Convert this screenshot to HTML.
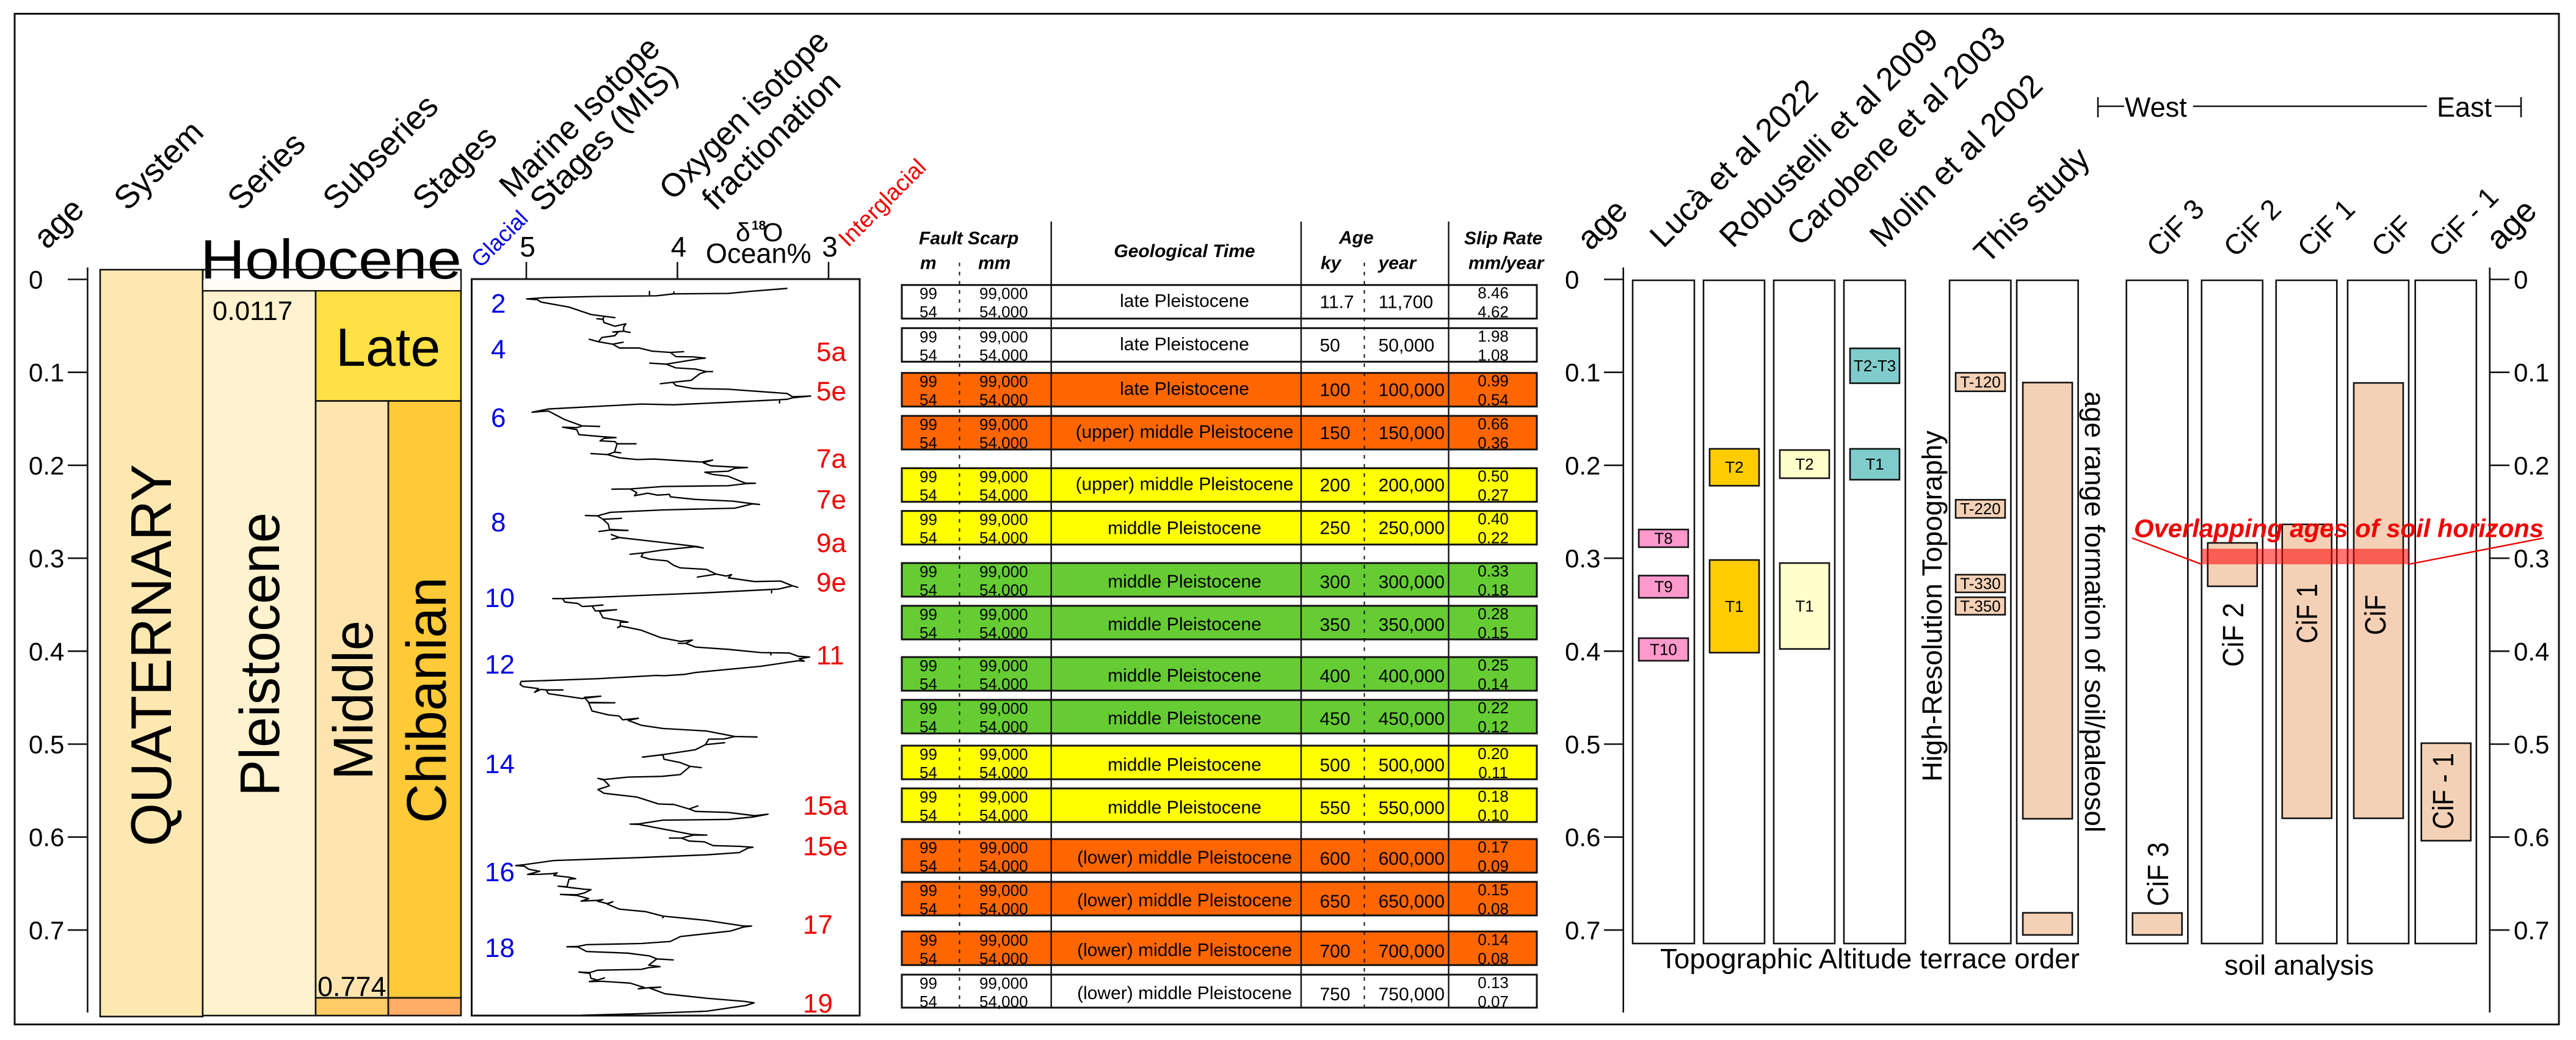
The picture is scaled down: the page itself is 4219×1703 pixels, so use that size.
<!DOCTYPE html>
<html lang="en">
<head>
<meta charset="utf-8">
<title>Chronostratigraphy, isotope stages, fault scarp slip rates and terrace ages</title>
<style>
html,body{margin:0;padding:0;background:#fff;}
svg{display:block;}
text{font-family:"Liberation Sans",Arial,sans-serif;fill:#000;}
.box{stroke:#111;stroke-width:2.6;}
.col{fill:#fff;stroke:#111;stroke-width:2.6;}
.h54{font-size:54px;}
.h53{font-size:53px;}
.h46{font-size:46px;}
.h45{font-size:45px;}
.tick{font-size:42px;}
.blue{font-size:44px;fill:#0000e6;}
.red{font-size:44px;fill:#f00000;}
.t26{font-size:26px;}
.t30{font-size:30px;}
.b30{font-size:30px;font-weight:bold;font-style:italic;}
.mid{text-anchor:middle;}
.rw{stroke:#111;stroke-width:3;}
.white{fill:#fff;}
.orange{fill:#ff6600;}
.yellow{fill:#ffff00;}
.green{fill:#66cc33;}
.bar{stroke:#111;stroke-width:2.6;}
.bar-luca{fill:#ff99cc;}
.bar-robustelli{fill:#ffcc00;}
.bar-carobene{fill:#ffffcc;}
.bar-molin{fill:#80cccc;}
.bar-study{fill:#f4d1b6;}
.bar-text{font-size:26px;text-anchor:middle;}
</style>
</head>
<body>
<svg id="chart" xmlns="http://www.w3.org/2000/svg" width="4219" height="1703" viewBox="0 0 4219 1703">
<rect x="0" y="0" width="4219" height="1703" fill="#fff"/>
<rect x="24" y="22.5" width="4167" height="1655" fill="none" stroke="#111" stroke-width="3"/>

<!-- Rotated headers -->
<text class="h54" transform="translate(77,410) rotate(-45)">age</text>
<text class="h54" transform="translate(209,347) rotate(-45)">System</text>
<text class="h54" transform="translate(395,347) rotate(-45)">Series</text>
<text class="h54" transform="translate(551,347) rotate(-45)">Subseries</text>
<text class="h54" transform="translate(698,347) rotate(-45)">Stages</text>
<text class="h54" transform="translate(840,326) rotate(-45)" textLength="345" lengthAdjust="spacingAndGlyphs">Marine Isotope</text>
<text class="h54" transform="translate(890,349) rotate(-45)">Stages (MIS)</text>
<text class="h54" transform="translate(1102,330) rotate(-45)" textLength="366" lengthAdjust="spacingAndGlyphs">Oxygen isotope</text>
<text class="h54" transform="translate(1172,347) rotate(-45)">fractionation</text>
<text font-size="37" style="fill:#0000e6" transform="translate(787,440) rotate(-45)">Glacial</text>
<text font-size="38" style="fill:#f00000" transform="translate(1389,406) rotate(-45)">Interglacial</text>

<text class="h54" transform="translate(2605,412) rotate(-45)">age</text>
<text class="h53" transform="translate(2724,408) rotate(-45)">Lucà et al 2022</text>
<text class="h53" transform="translate(2838,408) rotate(-45)">Robustelli et al 2009</text>
<text class="h53" transform="translate(2948,405) rotate(-45)">Carobene et al 2003</text>
<text class="h53" transform="translate(3084,408) rotate(-45)">Molin et al 2002</text>
<text class="h53" transform="translate(3255,434) rotate(-45)">This study</text>
<text class="h46" transform="translate(3535,423) rotate(-45)">CiF 3</text>
<text class="h46" transform="translate(3661,423) rotate(-45)">CiF 2</text>
<text class="h46" transform="translate(3782,423) rotate(-45)">CiF 1</text>
<text class="h46" transform="translate(3903,423) rotate(-45)">CiF</text>
<text class="h46" transform="translate(3997,423) rotate(-45)">CiF - 1</text>
<text class="h54" transform="translate(4094,412) rotate(-45)">age</text>

<!-- West / East bracket -->
<path d="M3436 159V192M3436 174H3479M3592 174H3975M4086 174H4129M4129 159V192" fill="none" stroke="#111" stroke-width="2.6"/>
<text x="3480" y="191" font-size="45">West</text>
<text x="3991" y="191" font-size="45">East</text>

<!-- Chronostratigraphy -->
<rect class="box" x="164" y="441.6" width="168" height="1223" fill="#fee8b1"/>
<rect class="box" x="332" y="476" width="185" height="1187" fill="#fff2ce"/>
<rect class="box" x="517" y="476" width="238" height="180.6" fill="#ffe045"/>
<rect class="box" x="517" y="656.6" width="119" height="977.4" fill="#fee5af"/>
<rect class="box" x="636" y="656.6" width="119" height="977.4" fill="#ffca38"/>
<rect class="box" x="517" y="1634" width="119" height="29" fill="#ffcb66"/>
<rect class="box" x="636" y="1634" width="119" height="29" fill="#ffad66"/>
<text x="328" y="456" font-size="91" textLength="428" lengthAdjust="spacingAndGlyphs">Holocene</text>
<rect class="box" x="332" y="441.6" width="423" height="34.4" fill="#fffdf5" fill-opacity="0.01"/>
<path d="M333 458H754V475H333Z" fill="#fdfcf5"/>
<text x="348" y="524" font-size="44">0.0117</text>
<text x="550" y="599" font-size="88">Late</text>
<text x="520" y="1631" font-size="45">0.774</text>
<text font-size="94" transform="translate(280,1386) rotate(-90)" textLength="626" lengthAdjust="spacingAndGlyphs">QUATERNARY</text>
<text font-size="92" transform="translate(457,1304) rotate(-90)" textLength="465" lengthAdjust="spacingAndGlyphs">Pleistocene</text>
<text font-size="92" transform="translate(610,1277) rotate(-90)" textLength="261" lengthAdjust="spacingAndGlyphs">Middle</text>
<text font-size="92" transform="translate(730,1348) rotate(-90)" textLength="403" lengthAdjust="spacingAndGlyphs">Chibanian</text>

<!-- Isotope panel -->
<rect x="772.5" y="457" width="635.5" height="1206" fill="#fff" stroke="#111" stroke-width="3"/>
<text x="1205" y="395" font-size="43">δ</text>
<text x="1231" y="376" font-size="21" font-weight="bold">18</text>
<text x="1249" y="395" font-size="43">O</text>
<text x="1156" y="430.6" font-size="45">Ocean%</text>
<g id="isotope-axis"></g>
<path id="isotope-curve" fill="none" stroke="#000" stroke-width="2.3" stroke-linejoin="round" stroke-linecap="round"/>
<g>
<text class="blue" x="804" y="512">2</text>
<text class="blue" x="804" y="587">4</text>
<text class="blue" x="804" y="699">6</text>
<text class="blue" x="804" y="870">8</text>
<text class="blue" x="794" y="994">10</text>
<text class="blue" x="794" y="1103">12</text>
<text class="blue" x="794" y="1266">14</text>
<text class="blue" x="794" y="1443">16</text>
<text class="blue" x="794" y="1567">18</text>
</g>
<g>
<text class="red" x="1337" y="591">5a</text>
<text class="red" x="1337" y="655.5">5e</text>
<text class="red" x="1337" y="766">7a</text>
<text class="red" x="1337" y="833">7e</text>
<text class="red" x="1337" y="904">9a</text>
<text class="red" x="1337" y="968.6">9e</text>
<text class="red" x="1337" y="1088">11</text>
<text class="red" x="1315" y="1334">15a</text>
<text class="red" x="1315" y="1400.6">15e</text>
<text class="red" x="1315" y="1529">17</text>
<text class="red" x="1315" y="1658">19</text>
</g>

<!-- Table rows -->
<g>
<g>
<text class="b30" x="1505" y="400">Fault Scarp</text>
<text class="b30" x="1507" y="440.7">m</text>
<text class="b30" x="1602" y="440.7">mm</text>
<text class="b30 mid" x="1940" y="421">Geological Time</text>
<text class="b30" x="2193" y="399">Age</text>
<text class="b30" x="2163" y="440.7">ky</text>
<text class="b30" x="2257.6" y="440.7">year</text>
<text class="b30" x="2398" y="400">Slip Rate</text>
<text class="b30" x="2405" y="440.7">mm/year</text>
</g>
<g transform="translate(0,466.7)">
<rect class="rw white" x="1477" y="0" width="1040" height="55"/>
<text class="t26" x="1506" y="23">99</text><text class="t26" x="1506" y="53">54</text>
<text class="t26" x="1604" y="23">99,000</text><text class="t26" x="1604" y="53">54,000</text>
<text class="t30 mid" x="1940" y="36">late Pleistocene</text>
<text class="t30" x="2161.5" y="38">11.7</text><text class="t30" x="2257.6" y="38">11,700</text>
<text class="t26 mid" x="2445.6" y="22">8.46</text><text class="t26 mid" x="2445.6" y="53">4.62</text>
</g>
<g transform="translate(0,537.3)">
<rect class="rw white" x="1477" y="0" width="1040" height="55"/>
<text class="t26" x="1506" y="23">99</text><text class="t26" x="1506" y="53">54</text>
<text class="t26" x="1604" y="23">99,000</text><text class="t26" x="1604" y="53">54,000</text>
<text class="t30 mid" x="1940" y="36">late Pleistocene</text>
<text class="t30" x="2161.5" y="38">50</text><text class="t30" x="2257.6" y="38">50,000</text>
<text class="t26 mid" x="2445.6" y="22">1.98</text><text class="t26 mid" x="2445.6" y="53">1.08</text>
</g>
<g transform="translate(0,610.7)">
<rect class="rw orange" x="1477" y="0" width="1040" height="55"/>
<text class="t26" x="1506" y="23">99</text><text class="t26" x="1506" y="53">54</text>
<text class="t26" x="1604" y="23">99,000</text><text class="t26" x="1604" y="53">54,000</text>
<text class="t30 mid" x="1940" y="36">late Pleistocene</text>
<text class="t30" x="2161.5" y="38">100</text><text class="t30" x="2257.6" y="38">100,000</text>
<text class="t26 mid" x="2445.6" y="22">0.99</text><text class="t26 mid" x="2445.6" y="53">0.54</text>
</g>
<g transform="translate(0,681)">
<rect class="rw orange" x="1477" y="0" width="1040" height="55"/>
<text class="t26" x="1506" y="23">99</text><text class="t26" x="1506" y="53">54</text>
<text class="t26" x="1604" y="23">99,000</text><text class="t26" x="1604" y="53">54,000</text>
<text class="t30 mid" x="1940" y="36">(upper) middle Pleistocene</text>
<text class="t30" x="2161.5" y="38">150</text><text class="t30" x="2257.6" y="38">150,000</text>
<text class="t26 mid" x="2445.6" y="22">0.66</text><text class="t26 mid" x="2445.6" y="53">0.36</text>
</g>
<g transform="translate(0,766.7)">
<rect class="rw yellow" x="1477" y="0" width="1040" height="55"/>
<text class="t26" x="1506" y="23">99</text><text class="t26" x="1506" y="53">54</text>
<text class="t26" x="1604" y="23">99,000</text><text class="t26" x="1604" y="53">54,000</text>
<text class="t30 mid" x="1940" y="36">(upper) middle Pleistocene</text>
<text class="t30" x="2161.5" y="38">200</text><text class="t30" x="2257.6" y="38">200,000</text>
<text class="t26 mid" x="2445.6" y="22">0.50</text><text class="t26 mid" x="2445.6" y="53">0.27</text>
</g>
<g transform="translate(0,836.7)">
<rect class="rw yellow" x="1477" y="0" width="1040" height="55"/>
<text class="t26" x="1506" y="23">99</text><text class="t26" x="1506" y="53">54</text>
<text class="t26" x="1604" y="23">99,000</text><text class="t26" x="1604" y="53">54,000</text>
<text class="t30 mid" x="1940" y="38">middle Pleistocene</text>
<text class="t30" x="2161.5" y="38">250</text><text class="t30" x="2257.6" y="38">250,000</text>
<text class="t26 mid" x="2445.6" y="22">0.40</text><text class="t26 mid" x="2445.6" y="53">0.22</text>
</g>
<g transform="translate(0,922)">
<rect class="rw green" x="1477" y="0" width="1040" height="55"/>
<text class="t26" x="1506" y="23">99</text><text class="t26" x="1506" y="53">54</text>
<text class="t26" x="1604" y="23">99,000</text><text class="t26" x="1604" y="53">54,000</text>
<text class="t30 mid" x="1940" y="40">middle Pleistocene</text>
<text class="t30" x="2161.5" y="41">300</text><text class="t30" x="2257.6" y="41">300,000</text>
<text class="t26 mid" x="2445.6" y="22">0.33</text><text class="t26 mid" x="2445.6" y="53">0.18</text>
</g>
<g transform="translate(0,992)">
<rect class="rw green" x="1477" y="0" width="1040" height="55"/>
<text class="t26" x="1506" y="23">99</text><text class="t26" x="1506" y="53">54</text>
<text class="t26" x="1604" y="23">99,000</text><text class="t26" x="1604" y="53">54,000</text>
<text class="t30 mid" x="1940" y="40">middle Pleistocene</text>
<text class="t30" x="2161.5" y="41">350</text><text class="t30" x="2257.6" y="41">350,000</text>
<text class="t26 mid" x="2445.6" y="22">0.28</text><text class="t26 mid" x="2445.6" y="53">0.15</text>
</g>
<g transform="translate(0,1076)">
<rect class="rw green" x="1477" y="0" width="1040" height="55"/>
<text class="t26" x="1506" y="23">99</text><text class="t26" x="1506" y="53">54</text>
<text class="t26" x="1604" y="23">99,000</text><text class="t26" x="1604" y="53">54,000</text>
<text class="t30 mid" x="1940" y="40">middle Pleistocene</text>
<text class="t30" x="2161.5" y="41">400</text><text class="t30" x="2257.6" y="41">400,000</text>
<text class="t26 mid" x="2445.6" y="22">0.25</text><text class="t26 mid" x="2445.6" y="53">0.14</text>
</g>
<g transform="translate(0,1146)">
<rect class="rw green" x="1477" y="0" width="1040" height="55"/>
<text class="t26" x="1506" y="23">99</text><text class="t26" x="1506" y="53">54</text>
<text class="t26" x="1604" y="23">99,000</text><text class="t26" x="1604" y="53">54,000</text>
<text class="t30 mid" x="1940" y="40">middle Pleistocene</text>
<text class="t30" x="2161.5" y="41">450</text><text class="t30" x="2257.6" y="41">450,000</text>
<text class="t26 mid" x="2445.6" y="22">0.22</text><text class="t26 mid" x="2445.6" y="53">0.12</text>
</g>
<g transform="translate(0,1221)">
<rect class="rw yellow" x="1477" y="0" width="1040" height="55"/>
<text class="t26" x="1506" y="23">99</text><text class="t26" x="1506" y="53">54</text>
<text class="t26" x="1604" y="23">99,000</text><text class="t26" x="1604" y="53">54,000</text>
<text class="t30 mid" x="1940" y="41">middle Pleistocene</text>
<text class="t30" x="2161.5" y="42">500</text><text class="t30" x="2257.6" y="42">500,000</text>
<text class="t26 mid" x="2445.6" y="22">0.20</text><text class="t26 mid" x="2445.6" y="53">0.11</text>
</g>
<g transform="translate(0,1291)">
<rect class="rw yellow" x="1477" y="0" width="1040" height="55"/>
<text class="t26" x="1506" y="23">99</text><text class="t26" x="1506" y="53">54</text>
<text class="t26" x="1604" y="23">99,000</text><text class="t26" x="1604" y="53">54,000</text>
<text class="t30 mid" x="1940" y="41">middle Pleistocene</text>
<text class="t30" x="2161.5" y="42">550</text><text class="t30" x="2257.6" y="42">550,000</text>
<text class="t26 mid" x="2445.6" y="22">0.18</text><text class="t26 mid" x="2445.6" y="53">0.10</text>
</g>
<g transform="translate(0,1374)">
<rect class="rw orange" x="1477" y="0" width="1040" height="55"/>
<text class="t26" x="1506" y="23">99</text><text class="t26" x="1506" y="53">54</text>
<text class="t26" x="1604" y="23">99,000</text><text class="t26" x="1604" y="53">54,000</text>
<text class="t30 mid" x="1940" y="40">(lower) middle Pleistocene</text>
<text class="t30" x="2161.5" y="42">600</text><text class="t30" x="2257.6" y="42">600,000</text>
<text class="t26 mid" x="2445.6" y="22">0.17</text><text class="t26 mid" x="2445.6" y="53">0.09</text>
</g>
<g transform="translate(0,1444)">
<rect class="rw orange" x="1477" y="0" width="1040" height="55"/>
<text class="t26" x="1506" y="23">99</text><text class="t26" x="1506" y="53">54</text>
<text class="t26" x="1604" y="23">99,000</text><text class="t26" x="1604" y="53">54,000</text>
<text class="t30 mid" x="1940" y="40">(lower) middle Pleistocene</text>
<text class="t30" x="2161.5" y="42">650</text><text class="t30" x="2257.6" y="42">650,000</text>
<text class="t26 mid" x="2445.6" y="22">0.15</text><text class="t26 mid" x="2445.6" y="53">0.08</text>
</g>
<g transform="translate(0,1525.3)">
<rect class="rw orange" x="1477" y="0" width="1040" height="55"/>
<text class="t26" x="1506" y="23">99</text><text class="t26" x="1506" y="53">54</text>
<text class="t26" x="1604" y="23">99,000</text><text class="t26" x="1604" y="53">54,000</text>
<text class="t30 mid" x="1940" y="40">(lower) middle Pleistocene</text>
<text class="t30" x="2161.5" y="42">700</text><text class="t30" x="2257.6" y="42">700,000</text>
<text class="t26 mid" x="2445.6" y="22">0.14</text><text class="t26 mid" x="2445.6" y="53">0.08</text>
</g>
<g transform="translate(0,1596)">
<rect class="rw white" x="1477" y="0" width="1040" height="54"/>
<text class="t26" x="1506" y="23">99</text><text class="t26" x="1506" y="53">54</text>
<text class="t26" x="1604" y="23">99,000</text><text class="t26" x="1604" y="53">54,000</text>
<text class="t30 mid" x="1940" y="40">(lower) middle Pleistocene</text>
<text class="t30" x="2161.5" y="42">750</text><text class="t30" x="2257.6" y="42">750,000</text>
<text class="t26 mid" x="2445.6" y="22">0.13</text><text class="t26 mid" x="2445.6" y="53">0.07</text>
</g>
<path d="M1721.7 362.7V1650M2131 362.7V1650M2372.6 362.7V1650" fill="none" stroke="#111" stroke-width="2.4"/>
<path d="M1571.5 430V1650M2234.5 430V1650" fill="none" stroke="#111" stroke-width="2" stroke-dasharray="6 9"/>
</g>

<!-- Age columns -->
<g>
<rect id="col-luca" class="col" x="2674" y="459" width="101" height="1086"/>
<rect id="col-robustelli" class="col" x="2790" y="459" width="100" height="1086"/>
<rect id="col-carobene" class="col" x="2905" y="459" width="100" height="1086"/>
<rect id="col-molin" class="col" x="3020" y="459" width="100.6" height="1086"/>
<rect id="col-study" class="col" x="3193" y="459" width="100.4" height="1086"/>
<rect id="col-range" class="col" x="3303" y="459" width="100.6" height="1086"/>
</g>
<g>
<rect id="col-cif3" class="col" x="3482.7" y="459" width="100.6" height="1086"/>
<rect id="col-cif2" class="col" x="3605.8" y="459" width="100" height="1086"/>
<rect id="col-cif1" class="col" x="3727.8" y="459" width="99.5" height="1086"/>
<rect id="col-cif" class="col" x="3845" y="459" width="100" height="1086"/>
<rect id="col-cifm1" class="col" x="3955.7" y="459" width="100.1" height="1086"/>
</g>
<g id="age-bars"></g>
<g id="age-axes"></g>

<text class="h45" transform="translate(3180,1280) rotate(-90)" textLength="575" lengthAdjust="spacingAndGlyphs">High-Resolution Topography</text>
<text class="h45" transform="translate(3415,641) rotate(90)" textLength="722" lengthAdjust="spacingAndGlyphs">age range formation of soil/paleosol</text>
<text class="h45" x="2719" y="1585.6" textLength="687" lengthAdjust="spacingAndGlyphs">Topographic Altitude terrace order</text>
<text class="h45" x="3643" y="1596" textLength="245" lengthAdjust="spacingAndGlyphs">soil analysis</text>
<text font-size="48" transform="translate(3551,1484) rotate(-90)" textLength="105" lengthAdjust="spacingAndGlyphs">CiF 3</text>
<text font-size="48" transform="translate(3674,1092) rotate(-90)" textLength="105" lengthAdjust="spacingAndGlyphs">CiF 2</text>
<text font-size="48" transform="translate(3795,1053.6) rotate(-90)" textLength="98" lengthAdjust="spacingAndGlyphs">CiF 1</text>
<text font-size="48" transform="translate(3907,1040) rotate(-90)" textLength="66" lengthAdjust="spacingAndGlyphs">CiF</text>
<text font-size="48" transform="translate(4018,1358) rotate(-90)" textLength="125" lengthAdjust="spacingAndGlyphs">CiF - 1</text>

<rect id="overlap-band" fill="#ff0000" fill-opacity="0.55" x="3605.8" width="339.2"/>
<path id="overlap-leaders" fill="none" stroke="#f00000" stroke-width="2.4"/>
<text x="3495" y="879.6" font-size="42" font-weight="bold" font-style="italic" style="fill:#f00000" textLength="671" lengthAdjust="spacingAndGlyphs">Overlapping ages of soil horizons</text>
</svg>

<script>
const ageTickValues = [0, 0.1, 0.2, 0.3, 0.4, 0.5, 0.6, 0.7];
const ageTickLabels = ['0', '0.1', '0.2', '0.3', '0.4', '0.5', '0.6', '0.7'];
const deltaTickValues = [5, 4, 3];
const deltaTickLabels = ['5', '4', '3'];

const isoDelta = [
3.276,3.519,3.663,4.024,4.139,4.529,4.875,4.998,4.926,4.904,
4.717,4.572,4.486,4.414,4.486,4.493,4.533,4.493,4.486,4.414,
4.341,4.356,4.356,4.313,4.356,4.428,4.392,4.414,4.500,4.522,
4.584,4.522,4.428,4.359,4.428,4.385,4.255,4.168,4.046,3.959,
4.046,4.010,3.894,3.815,3.851,3.952,4.074,4.183,4.074,4.010,
3.880,3.808,3.767,3.808,3.851,3.909,4.031,4.113,4.031,4.010,
3.894,3.663,3.274,3.238,3.118,3.238,3.274,3.331,3.663,4.024,
4.240,4.854,4.962,4.854,4.745,4.630,4.515,4.630,4.666,4.760,
4.666,4.652,4.500,4.406,4.486,4.512,4.414,4.399,4.274,4.399,
4.416,4.375,4.416,4.464,4.572,4.464,4.385,4.269,4.154,3.844,
3.767,3.829,3.779,3.620,3.536,3.620,3.663,3.819,3.764,3.663,
3.591,3.548,3.484,3.548,3.663,4.096,4.313,4.434,4.313,4.269,
4.284,4.197,4.132,4.053,4.046,3.880,3.634,3.505,3.457,3.505,
3.620,4.096,4.442,4.529,4.609,4.529,4.493,4.370,4.493,4.457,
4.450,4.327,4.450,4.520,null,4.438,4.385,4.435,4.385,4.096,
3.865,3.829,3.880,4.096,4.226,4.313,4.226,4.240,4.183,4.067,
4.024,3.981,3.808,3.743,3.868,3.743,3.678,3.642,3.663,3.490,
3.317,3.238,3.204,3.238,3.331,3.808,4.760,4.825,4.760,4.745,
4.659,4.630,4.565,4.493,4.565,4.543,4.403,4.515,4.493,4.399,
4.327,4.378,4.378,4.396,4.378,4.240,4.111,3.981,3.901,3.945,
3.995,3.945,3.880,3.663,3.447,3.259,3.201,3.125,3.194,3.161,
3.201,3.447,3.880,3.952,4.089,4.139,4.529,5.034,5.041,5.020,
4.919,4.945,4.904,4.868,4.757,4.868,4.854,4.818,4.630,4.507,
4.616,4.587,4.414,4.587,4.565,4.457,4.385,4.363,4.258,4.327,
4.240,4.096,3.808,3.620,3.473,3.620,3.692,3.793,3.815,3.688,
3.815,3.880,4.096,4.232,4.096,4.089,3.981,3.916,3.842,3.916,
3.981,4.103,4.327,4.486,4.526,4.486,4.450,4.526,4.486,4.269,
4.125,4.024,3.923,3.865,3.923,3.880,3.663,3.490,3.401,3.497,
3.663,4.096,4.255,4.313,4.255,3.909,3.805,3.894,3.973,4.053,
3.973,3.923,3.822,3.764,3.591,3.500,3.533,3.591,3.808,4.240,
4.818,5.020,5.070,5.012,4.984,4.911,4.991,4.911,4.832,4.795,
4.818,4.717,4.673,4.717,4.731,4.789,4.731,4.616,4.572,4.616,
4.666,4.774,4.666,4.587,4.637,4.529,4.493,4.529,4.464,4.428,
4.464,4.385,4.211,4.096,4.096,4.096,3.808,3.562,3.509,3.562,
3.649,3.981,4.046,4.240,4.601,4.659,4.731,4.659,4.601,4.327,
4.183,4.137,4.028,4.137,4.190,4.115,4.190,4.240,4.529,4.580,
4.652,4.580,4.572,4.529,4.483,4.529,4.583,4.500,4.313,4.219,
4.259,4.183,4.110,4.183,4.082,3.808,3.562,3.493,3.548,3.808,
4.240,4.637,
null,4.185,4.185,null,4.024,4.024,null,3.324,3.324,null,3.377,3.377,null,3.382,3.382
];
const isoAge = [
.0097,.0129,.0151,.0156,.0177,.0183,.0196,.0210,.0218,.0244,
.0298,.0378,.0397,.0411,.0397,.0429,.0424,.0429,.0464,.0504,
.0478,.0512,.0558,.0571,.0558,.0566,.0566,.0606,.0625,.0671,
.0644,.0671,.0697,.0676,.0697,.0738,.0738,.0772,.0786,.0778,
.0786,.0831,.0834,.0847,.0853,.0880,.0912,.0901,.0912,.0952,
.0965,.0992,.0992,.0992,.1014,.1086,.1107,.1123,.1107,.1142,
.1174,.1182,.1228,.1263,.1255,.1274,.1290,.1295,.1322,.1349,
.1341,.1394,.1429,.1416,.1509,.1576,.1582,.1576,.1595,.1590,
.1617,.1670,.1692,.1702,.1710,.1737,.1745,.1769,.1769,.1769,
.1858,.1866,.1858,.1885,.1874,.1885,.1919,.1938,.1933,.1965,
.1944,.1973,.2005,.2019,.2024,.2032,.2064,.2075,.2099,.2118,
.2166,.2193,.2193,.2198,.2220,.2228,.2254,.2257,.2254,.2295,
.2327,.2300,.2321,.2313,.2340,.2367,.2386,.2413,.2421,.2415,
.2461,.2480,.2506,.2544,.2541,.2544,.2581,.2571,.2581,.2635,
.2689,.2702,.2697,.2713,null,.2745,.2777,.2796,.2777,.2831,
.2876,.2890,.2876,.2911,.2943,.2957,.2943,.2983,.3010,.3029,
.3077,.3104,.3120,.3171,.3203,.3171,.3192,.3176,.3211,.3251,
.3246,.3297,.3313,.3297,.3332,.3372,.3434,.3434,.3434,.3471,
.3487,.3519,.3514,.3503,.3514,.3568,.3554,.3573,.3640,.3667,
.3688,.3688,.3734,.3747,.3728,.3774,.3854,.3895,.3881,.3916,
.3916,.3916,.3956,.3980,.4015,.4020,.4055,.4063,.4082,.4108,
.4103,.4162,.4229,.4250,.4264,.4261,.4296,.4325,.4358,.4382,
.4403,.4443,.4411,.4417,.4417,.4417,.4457,.4465,.4510,.4484,
.4497,.4551,.4556,.4556,.4644,.4685,.4698,.4738,.4722,.4744,
.4797,.4832,.4859,.4918,.4923,.4918,.4945,.4947,.5006,.4985,
.5006,.5060,.5113,.5140,.5113,.5162,.5199,.5239,.5253,.5239,
.5328,.5347,.5355,.5381,.5368,.5387,.5448,.5489,.5529,.5569,
.5644,.5649,.5698,.5665,.5698,.5724,.5735,.5770,.5754,.5783,
.5810,.5818,.5858,.5861,.5864,.5971,.5979,.5979,.6011,.6011,
.6011,.6043,.6051,.6092,.6100,.6110,.6118,.6167,.6191,.6220,
.6252,.6298,.6306,.6314,.6346,.6368,.6402,.6400,.6394,.6386,
.6413,.6432,.6448,.6453,.6534,.6528,.6539,.6561,.6566,.6601,
.6620,.6617,.6628,.6662,.6689,.6681,.6673,.6689,.6716,.6695,
.6721,.6775,.6802,.6850,.6869,.6850,.6896,.6957,.6957,.6968,
.7011,.7070,.7123,.7145,.7158,.7177,.7180,.7182,.7231,.7249,
.7279,.7311,.7322,.7311,.7378,.7394,.7405,.7424,.7432,.7458,
.7453,.7466,.7520,.7539,.7515,.7539,.7555,.7552,.7571,.7619,
.7633,.7619,.7614,.7625,.7686,.7734,.7767,.7783,.7812,.7874,
.7900,.7917,
null,.0129,.0177,null,.0135,.0156,null,.1295,.1330,null,.3340,.3372,null,.4015,.4041
];

const barColumns = ['luca','luca','luca','robustelli','robustelli','carobene','carobene','molin','molin','study','study','study','study','range','range','cif3','cif2','cif1','cif','cifm1'];
const barLabels = ['T8','T9','T10','T2','T1','T2','T1','T2-T3','T1','T-120','T-220','T-330','T-350','','','','','','',''];
const barAgeTop = [.2691,.3187,.3860,.1823,.3019,.1836,.3052,.0742,.1823,.1005,.2371,.3177,.3420,.1110,.6815,.6817,.2835,.2636,.1114,.4990];
const barAgeBottom = [.2881,.3426,.4103,.2220,.4016,.2139,.3976,.1117,.2155,.1204,.2566,.3367,.3608,.5803,.7053,.7053,.3302,.5798,.5798,.6039];

const overlapAgeTop = 0.2898;
const overlapAgeBottom = 0.3065;

const SVG_NS = 'http://www.w3.org/2000/svg';
function ageToY(age) { return 457.5 + age * 1522; }
function deltaToX(delta) { return 862 + (5 - delta) * 247.5; }
function make(tag, attrs, parent) {
  const el = document.createElementNS(SVG_NS, tag);
  for (const k in attrs) el.setAttribute(k, attrs[k]);
  parent.appendChild(el);
  return el;
}

/* isotope curve */
let curve = '';
let pen = 'M';
isoDelta.forEach(function (d, i) {
  if (d === null || isoAge[i] === null) { pen = 'M'; return; }
  curve += pen + deltaToX(d).toFixed(1) + ' ' + ageToY(isoAge[i]).toFixed(1);
  pen = 'L';
});
document.getElementById('isotope-curve').setAttribute('d', curve);

/* isotope axis */
const isoAxis = document.getElementById('isotope-axis');
deltaTickValues.forEach(function (d, i) {
  const x = deltaToX(d);
  const tick = make('line', {x1: x, x2: x, y1: 429, y2: 457, stroke: '#111', 'stroke-width': 2.6}, isoAxis);
  
  
  const label = make('text', {x: x + 2, y: 420, 'font-size': 46, 'text-anchor': 'middle'}, isoAxis);
  
  
  label.textContent = deltaTickLabels[i];
});

/* age axes */
const axesGroup = document.getElementById('age-axes');
function drawAgeAxis(axisX, tickEndX, labelX) {
  const spine = make('line', {x1: axisX, x2: axisX, y1: 438, y2: 1658, stroke: '#111', 'stroke-width': 2.6}, axesGroup);
  
  
  ageTickValues.forEach(function (v, i) {
    const y = ageToY(v);
    const tick = make('line', {x1: axisX, x2: tickEndX, y1: y, y2: y, stroke: '#111', 'stroke-width': 2.6}, axesGroup);
    
    
    const label = make('text', {x: labelX, y: y + 15, class: 'tick'}, axesGroup);
    
    
    label.textContent = ageTickLabels[i];
  });
}
drawAgeAxis(143.4, 111, 47);
drawAgeAxis(2658.7, 2627, 2563);
drawAgeAxis(4077.7, 4110, 4117);

/* age bars */
const barGroup = document.getElementById('age-bars');
const barClass = {luca: 'bar-luca', robustelli: 'bar-robustelli', carobene: 'bar-carobene', molin: 'bar-molin', study: 'bar-study', range: 'bar-study', cif3: 'bar-study', cif2: 'bar-study', cif1: 'bar-study', cif: 'bar-study', cifm1: 'bar-study'};
barColumns.forEach(function (col, i) {
  const colRect = document.getElementById('col-' + col);
  const x = parseFloat(colRect.getAttribute('x')) + 10;
  const top = ageToY(barAgeTop[i]);
  const bottom = ageToY(barAgeBottom[i]);
  const bar = make('rect', {x: x, y: top, width: 81, height: bottom - top, class: 'bar ' + barClass[col]}, barGroup);
  
  
  if (barLabels[i]) {
    const t = make('text', {x: x + 40.5, y: (top + bottom) / 2 + 9, class: 'bar-text'}, barGroup);
    
    
    t.textContent = barLabels[i];
  }
});

/* overlap band */
const band = document.getElementById('overlap-band');
band.setAttribute('y', ageToY(overlapAgeTop));
band.setAttribute('height', ageToY(overlapAgeBottom) - ageToY(overlapAgeTop));
const bandBottom = ageToY(overlapAgeBottom);
const bandLeft = 3605.8;
const bandRight = 3945;
document.getElementById('overlap-leaders').setAttribute('d',
  'M3492 881L' + bandLeft + ' ' + bandBottom + 'M' + bandRight + ' ' + bandBottom + 'L4166 881');
</script>
</body>
</html>
